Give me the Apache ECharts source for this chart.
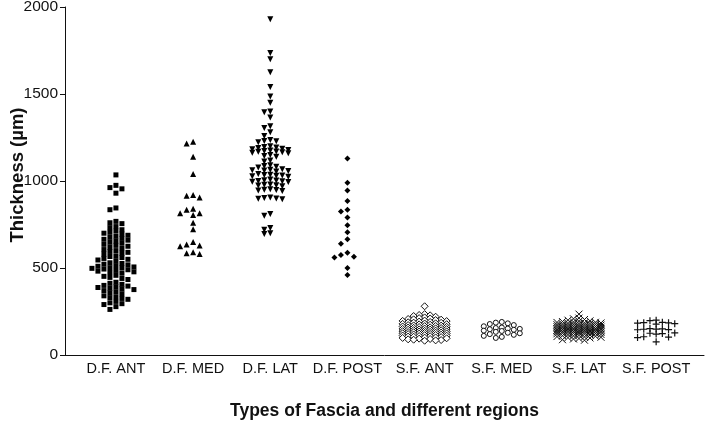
<!DOCTYPE html>
<html><head><meta charset="utf-8">
<script src="https://cdn.jsdelivr.net/npm/echarts@6/dist/echarts.min.js"></script>
<style>html,body{margin:0;padding:0;background:#fff}#c{width:709px;height:422px}</style>
</head><body><div id="c"></div>
<script>
const categories = ['D.F. ANT','D.F. MED','D.F. LAT','D.F. POST','S.F. ANT','S.F. MED','S.F. LAT','S.F. POST'];
const yTicks = [0, 500, 1000, 1500, 2000];
const yTitle = 'Thickness (\u00b5m)';
const xTitle = 'Types of Fascia and different regions';

const dfAnt = [1035, 975, 962, 955, 930, 845, 835, 768, 760, 755, 738, 732, 720, 712, 705, 700, 695, 688, 682, 676, 670, 665, 660, 655, 648, 642, 636, 630, 625, 620, 612, 606, 600, 595, 590, 585, 580, 570, 566, 560, 555, 550, 546, 542, 530, 526, 522, 518, 514, 510, 506, 502, 500, 498, 494, 490, 486, 482, 478, 474, 470, 458, 452, 446, 440, 434, 418, 412, 406, 400, 396, 392, 388, 384, 380, 376, 370, 364, 358, 352, 340, 335, 330, 325, 320, 308, 300, 295, 290, 278, 262];
const dfMed = [1225, 1215, 1140, 1040, 920, 915, 905, 840, 835, 815, 815, 805, 760, 723, 650, 635, 630, 625, 590, 585, 580];
const dfLat = [1930, 1735, 1700, 1625, 1540, 1485, 1450, 1400, 1395, 1365, 1315, 1305, 1280, 1258, 1236, 1230, 1228, 1222, 1200, 1196, 1192, 1190, 1186, 1182, 1178, 1175, 1172, 1170, 1168, 1165, 1162, 1160, 1150, 1144, 1140, 1118, 1112, 1090, 1086, 1082, 1078, 1068, 1064, 1062, 1060, 1058, 1055, 1040, 1036, 1034, 1032, 1030, 1028, 1025, 1008, 1005, 1003, 1000, 998, 996, 994, 980, 978, 976, 974, 970, 952, 950, 948, 945, 942, 905, 903, 900, 898, 895, 810, 800, 730, 720, 700, 695];
const dfPost = [1130, 990, 945, 885, 835, 825, 790, 745, 705, 665, 640, 588, 575, 565, 560, 500, 460];
const sfAnt = [280, 235, 230, 228, 224, 220, 216, 212, 210, 207, 205, 203, 201, 198, 196, 195, 192, 190, 188, 186, 185, 182, 181, 179, 177, 176, 174, 172, 170, 169, 167, 166, 164, 162, 161, 159, 158, 156, 155, 153, 152, 150, 149, 147, 146, 145, 143, 142, 140, 139, 137, 136, 135, 133, 132, 131, 129, 128, 127, 125, 124, 123, 121, 120, 118, 117, 115, 114, 112, 111, 109, 108, 106, 105, 103, 101, 100, 98, 96, 94, 92, 90, 88, 86, 84, 82];
const sfMed = [190, 186, 182, 178, 172, 165, 158, 155, 152, 150, 148, 145, 140, 138, 133, 128, 125, 120, 116, 110, 104, 98];
const sfLat = [235, 212, 208, 204, 200, 196, 194, 192, 190, 188, 187, 185, 184, 182, 181, 180, 178, 177, 176, 174, 173, 172, 170, 169, 168, 166, 165, 164, 163, 161, 160, 159, 158, 157, 156, 154, 153, 152, 151, 150, 149, 148, 147, 146, 145, 144, 143, 142, 141, 140, 138, 137, 136, 135, 134, 133, 132, 131, 130, 128, 127, 126, 125, 123, 122, 120, 118, 117, 115, 113, 111, 110, 108, 106, 104, 102, 100, 98, 95, 92, 88, 85];
const sfPost = [200, 197, 188, 186, 185, 183, 180, 178, 152, 150, 149, 148, 146, 145, 127, 125, 123, 120, 105, 103, 100, 76];

const groups = [dfAnt, dfMed, dfLat, dfPost, sfAnt, sfMed, sfLat, sfPost];

// layout constants (pixels)
const W = 709, H = 422;
const gridL = 65, gridR = 5, gridT = 7, gridB = 67;
const xMin = -0.66, xMax = 7.62;
const pxPerX = (W - gridL - gridR) / (xMax - xMin);
const pxPerY = (H - gridT - gridB) / 2000;

// swarm parameters per group: column spacing (px), min vertical gap (px), max column index
const swarm = [[6,4.3,4],[6.5,5,3],[6,4.2,3],[6.5,5,3],[5.5,3,4],[6,5,3],[5.5,3,4],[6.2,5,3]];

function beeswarm(vals, idx, dx, dyMin, maxK) {
  const sorted = vals.slice().sort((a, b) => b - a);
  const placed = [];
  const out = [];
  for (const v of sorted) {
    const ypx = v * pxPerY;
    let best = 0, bestD = -1;
    for (let t = 0; t <= 2 * maxK; t++) {
      const cand = t === 0 ? 0 : (t % 2 === 1 ? -Math.ceil(t / 2) : Math.ceil(t / 2));
      let d = Infinity;
      for (const p of placed) if (p.k === cand) d = Math.min(d, Math.abs(p.y - ypx));
      if (d >= dyMin) { best = cand; break; }
      if (d > bestD) { bestD = d; best = cand; }
    }
    placed.push({k: best, y: ypx});
    out.push([idx + best * dx / pxPerX, v]);
  }
  return out;
}

const markers = [
  {symbol: 'rect', size: 5, fill: '#000', border: '#000', bw: 0},
  {symbol: 'triangle', size: 6, fill: '#000', border: '#000', bw: 0},
  {symbol: 'path://M0,0 L10,0 L5,9 Z', size: 6, fill: '#000', border: '#000', bw: 0},
  {symbol: 'diamond', size: 6, fill: '#000', border: '#000', bw: 0},
  {symbol: 'diamond', size: 7, fill: '#fff', border: '#111', bw: 1},
  {symbol: 'circle', size: 5, fill: '#fff', border: '#111', bw: 1},
  {symbol: 'path://M0,0 L10,10 M10,0 L0,10', size: 7, fill: 'none', border: '#111', bw: 1},
  {symbol: 'path://M5,0 L5,10 M0,5 L10,5', size: 7, fill: 'none', border: '#111', bw: 1.2}
];

const series = groups.map((vals, i) => ({
  type: 'scatter',
  name: categories[i],
  data: beeswarm(vals, i, swarm[i][0], swarm[i][1], swarm[i][2]),
  symbol: markers[i].symbol,
  symbolSize: markers[i].size,
  itemStyle: {color: markers[i].fill, borderColor: markers[i].border, borderWidth: markers[i].bw, opacity: 1},
  emphasis: {disabled: true},
  animation: false
}));

const chart = echarts.init(document.getElementById('c'), null, {renderer: 'canvas'});
chart.setOption({
  backgroundColor: '#fff',
  animation: false,
  grid: {left: gridL, right: gridR, top: gridT, bottom: gridB, containLabel: false, outerBoundsMode: 'none'},
  graphic: [{
    type: 'text', x: 18, y: 175, rotation: Math.PI / 2, silent: true,
    style: {text: yTitle, fill: '#111', font: 'bold 18.5px "Liberation Sans"',
            align: 'center', verticalAlign: 'middle', textAlign: 'center', textVerticalAlign: 'middle'}
  }],
  xAxis: {
    type: 'value', min: xMin, max: xMax,
    name: xTitle,
    nameLocation: 'middle', nameGap: 47,
    nameTextStyle: {fontFamily: 'Liberation Sans', fontWeight: 'bold', fontSize: 17.5, color: '#111'},
    splitLine: {show: false},
    axisLine: {show: true, onZero: false, lineStyle: {color: '#111', width: 1}},
    axisTick: {show: false},
    axisLabel: {
      customValues: categories.map((c, i) => i),
      formatter: v => categories[Math.round(v)] || '',
      fontFamily: 'Liberation Sans', fontSize: 14.5, color: '#111', margin: 6
    }
  },
  yAxis: {
    type: 'value', min: yTicks[0], max: yTicks[yTicks.length - 1], interval: 500,
    splitLine: {show: false},
    axisLine: {show: true, onZero: false, lineStyle: {color: '#111', width: 1}},
    axisTick: {show: true, length: 5, lineStyle: {color: '#111'}},
    axisLabel: {formatter: v => String(v), fontFamily: 'Liberation Sans', fontSize: 15.5, color: '#111', margin: 7}
  },
  series: series
});
</script>
</body></html>
